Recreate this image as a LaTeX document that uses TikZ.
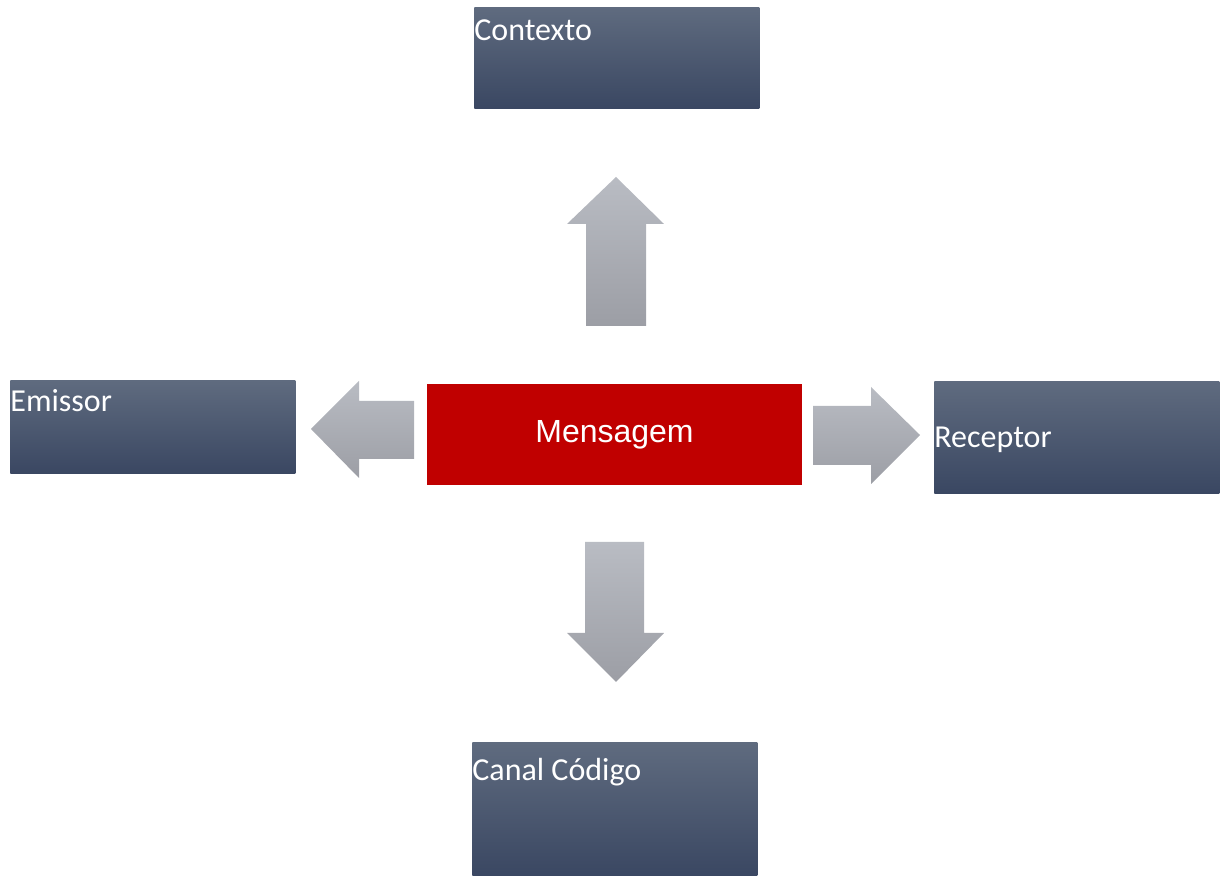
\documentclass[tikz,border=0pt]{standalone}
\usepackage{fontspec}
\setmainfont{Carlito}
\newfontfamily\arialfont{Liberation Sans}
\usepackage{tikz}
\usetikzlibrary{calc, positioning}

\definecolor{boxtop}{HTML}{5F6B7F}
\definecolor{boxbot}{HTML}{3A4762}
\definecolor{arrtop}{HTML}{B9BCC3}
\definecolor{arrbot}{HTML}{9C9EA5}
\definecolor{msgred}{HTML}{C00000}

\tikzset{
  caixa/.style={rectangle, draw=none, inner sep=0pt, anchor=north west,
    top color=boxtop, bottom color=boxbot, minimum width=142.5pt, minimum height=#1},
  rotulo/.style={anchor=base west, inner sep=0pt, text=white,
    font=\fontsize{16}{19}\selectfont},
  seta/.style={draw=none, top color=arrtop, bottom color=arrbot}
}

\begin{document}
\begin{tikzpicture}[x=0.5pt, y=-0.5pt]
    \useasboundingbox (0,0) rectangle (1222,876);

    % 1. Caixa central: Mensagem
    \node[rectangle, fill=msgred, inner sep=0pt, minimum width=187.5pt, minimum height=50.5pt,
      text=white, font=\arialfont\fontsize{16}{19}\selectfont] (msg) at (614.5,434.5) {Mensagem};

    % 2. As quatro caixas em volta
    \node[caixa=50.5pt] (ctx) at (474,7) {};
    \node[caixa=46.5pt] (emi) at (10,380) {};
    \node[caixa=56pt]   (rec) at (934,381) {};
    \node[caixa=67pt]   (can) at (472,742) {};

    % Textos das caixas
    \node[rotulo] (ctxtxt) at ($(ctx.north west)+(0,34)$) {Contexto};
    \node[rotulo] (emitxt) at ($(emi.north west)+(0,32)$) {Emissor};
    \node[rotulo] (rectxt) at ($(rec.north west)+(0,67)$) {Receptor};
    \node[rotulo] (cantxt) at ($(can.north west)+(0,39)$) {Canal Código};

    % 3. Setas largas cinzentas
    % para cima (Contexto)
    \shade[seta] (586,326) -- (586,224) -- (567,224) -- (616,177) -- (664,224)
      -- (646,224) -- (646,326) -- cycle;
    % para a esquerda (Emissor)
    \shade[seta] (414,401) -- (359,401) -- (359,381) -- (311,429) -- (359,478)
      -- (359,459) -- (414,459) -- cycle;
    % para a direita (Receptor)
    \shade[seta] (813,406) -- (871,406) -- (871,387) -- (920,435) -- (871,484)
      -- (871,465) -- (813,465) -- cycle;
    % para baixo (Canal Código)
    \shade[seta] (585,542) -- (644,542) -- (644,633) -- (664,633) -- (616,682)
      -- (567,633) -- (585,633) -- cycle;

\end{tikzpicture}
\end{document}
